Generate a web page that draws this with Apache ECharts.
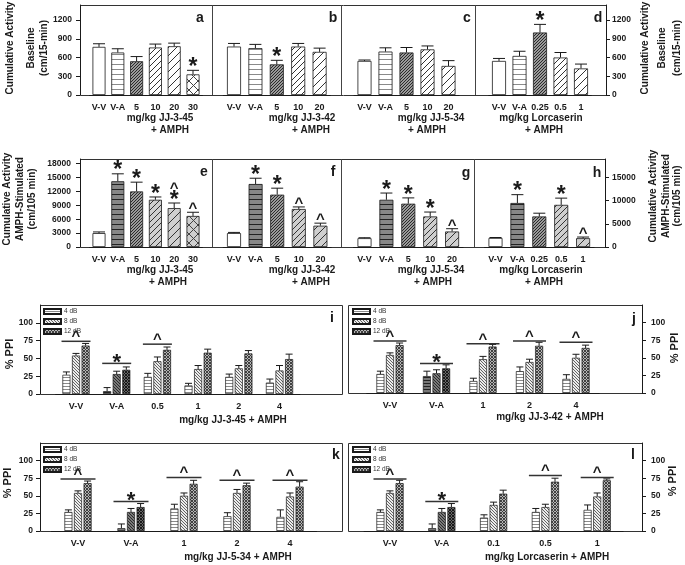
<!DOCTYPE html>
<html>
<head>
<meta charset="utf-8">
<script src="https://cdn.jsdelivr.net/npm/echarts@6/dist/echarts.min.js"></script>
<style>
html, body { margin: 0; padding: 0; background: #fff; }
#chart { width: 685px; height: 565px; }
</style>
</head>
<body>
<div id="chart"></div>
<script>
// ---- baseline activity (cm/15-min), panels a-d
const catsA = ['V-V', 'V-A', '5', '10', '20', '30'];
const catsB = ['V-V', 'V-A', '5', '10', '20'];
const catsC = ['V-V', 'V-A', '5', '10', '20'];
const catsD = ['V-V', 'V-A', '0.25', '0.5', '1'];

const baseA = [770, 680, 540, 760, 780, 330];
const baseAErr = [50, 60, 75, 55, 50, 65];
const baseAMark = ['', '', '', '', '', '*'];
const baseB = [775, 750, 490, 775, 690];
const baseBErr = [50, 60, 65, 50, 60];
const baseBMark = ['', '', '*', '', ''];
const baseC = [545, 695, 680, 730, 465];
const baseCErr = [15, 60, 80, 55, 85];
const baseCMark = ['', '', '', '', ''];
const baseD = [545, 625, 1000, 600, 425];
const baseDErr = [40, 75, 130, 80, 70];
const baseDMark = ['', '', '*', '', ''];

// ---- AMPH-stimulated activity (cm/105 min), panels e-h
const ampE = [3000, 14200, 12000, 10200, 8400, 6700];
const ampEErr = [250, 1600, 2000, 600, 1100, 800];
const ampEMark = ['', '*', '*', '*', '^*', '^'];
const ampF = [3000, 13600, 11300, 8200, 4600];
const ampFErr = [150, 1250, 1400, 450, 550];
const ampFMark = ['', '*', '*', '^', '^'];
const ampG = [1900, 10200, 9350, 6600, 3350];
const ampGErr = [100, 1450, 1250, 950, 600];
const ampGMark = ['', '*', '*', '*', '^'];
const ampH = [1950, 9500, 6600, 9100, 1900];
const ampHErr = [100, 1800, 700, 1450, 250];
const ampHMark = ['', '*', '', '*', '^'];

// ---- % PPI, panels i-l (4, 8, 12 dB)
const catsI = ['V-V', 'V-A', '0.5', '1', '2', '4'];
const ppiI4 = [27, 4, 24, 12, 24, 16];
const ppiI4Err = [4, 5, 5, 3, 4, 5];
const ppiI8 = [54, 28, 46, 35, 36, 33];
const ppiI8Err = [3, 4, 6, 5, 4, 7];
const ppiI12 = [68, 34, 62, 58, 57, 49];
const ppiI12Err = [3, 4, 4, 5, 4, 7];
const brI = [0, 1, 2];
const brIY = [74, 43, 70];
const brIMark = ['^', '*', '^'];

const catsJ = ['V-V', 'V-A', '1', '2', '4'];
const ppiJ4 = [27, 24, 17, 31, 20];
const ppiJ4Err = [4, 7, 4, 6, 6];
const ppiJ8 = [54, 28, 48, 44, 50];
const ppiJ8Err = [3, 5, 4, 4, 5];
const ppiJ12 = [68, 35, 66, 67, 64];
const ppiJ12Err = [3, 5, 3, 5, 4];
const brJ = [0, 1, 2, 3, 4];
const brJY = [74, 42, 70, 74, 72];
const brJMark = ['^', '*', '^', '^', '^'];

const catsK = ['V-V', 'V-A', '1', '2', '4'];
const ppiK4 = [27, 4, 32, 21, 20];
const ppiK4Err = [3, 6, 6, 5, 10];
const ppiK8 = [54, 27, 50, 54, 49];
const ppiK8Err = [3, 5, 4, 5, 5];
const ppiK12 = [68, 34, 67, 65, 63];
const ppiK12Err = [3, 5, 5, 3, 7];
const brK = [0, 1, 2, 3, 4];
const brKY = [74, 42, 76, 72, 72];
const brKMark = ['^', '*', '^', '^', '^'];

const catsL = ['V-V', 'V-A', '0.1', '0.5', '1'];
const ppiL4 = [27, 4, 19, 27, 30];
const ppiL4Err = [3, 6, 4, 5, 7];
const ppiL8 = [54, 27, 37, 34, 49];
const ppiL8Err = [3, 5, 4, 4, 5];
const ppiL12 = [68, 34, 53, 70, 72];
const ppiL12Err = [4, 5, 5, 5, 2];
const brL = [0, 1, 3, 4];
const brLY = [74, 42, 79, 76];
const brLMark = ['^', '*', '^', '^'];

const dbNames = ['4 dB', '8 dB', '12 dB'];

const FONT = 'Arial, "Liberation Sans", sans-serif';
const INK = '#1a1a1a';

// hatch fills drawn on small canvases
function tile(n, bg, draw) {
  const c = document.createElement('canvas');
  c.width = n; c.height = n;
  const g = c.getContext('2d');
  g.fillStyle = bg; g.fillRect(0, 0, n, n);
  draw(g, n);
  return { image: c, repeat: 'repeat' };
}
function hLines(bg, fg, n) {
  return tile(n, bg, (g, s) => { g.fillStyle = fg; g.fillRect(0, s - 1, s, 1); });
}
function fwd(g, s) {
  g.moveTo(0, s); g.lineTo(s, 0);
  g.moveTo(-1, 1); g.lineTo(1, -1);
  g.moveTo(s - 1, s + 1); g.lineTo(s + 1, s - 1);
}
function back(g, s) {
  g.moveTo(0, 0); g.lineTo(s, s);
  g.moveTo(s - 1, -1); g.lineTo(s + 1, 1);
  g.moveTo(-1, s - 1); g.lineTo(1, s + 1);
}
function hatch(bg, fg, n, w, kind) {
  return tile(n, bg, (g, s) => {
    g.strokeStyle = fg; g.lineWidth = w; g.beginPath();
    if (kind !== 'back') fwd(g, s);
    if (kind !== 'fwd') back(g, s);
    g.stroke();
  });
}
const pats = {
  white: '#ffffff',
  hLight: hLines('#ffffff', '#8a8a8a', 5),
  hDark: hLines('#878787', '#222', 5),
  dense: hatch('#9a9a9a', '#2a2a2a', 3, 1, 'fwd'),
  diag: hatch('#ffffff', '#333', 6, 1, 'fwd'),
  diagWide: hatch('#ffffff', '#333', 8, 1, 'fwd'),
  diagGray: hatch('#cfcfcf', '#333', 6, 1, 'fwd'),
  diagGrayWide: hatch('#cfcfcf', '#333', 8, 1, 'fwd'),
  cross: hatch('#ffffff', '#444', 9, 1, 'x'),
  crossGray: hatch('#cfcfcf', '#444', 9, 1, 'x'),
  p4: hLines('#ffffff', '#8a8a8a', 3),
  p8: hatch('#ececec', '#555', 3, 0.9, 'back'),
  p12: hatch('#b5b5b5', '#333', 3, 0.9, 'x'),
  p4d: hLines('#777', '#222', 3),
  p8d: hatch('#7a7a7a', '#222', 3, 0.9, 'back'),
  p12d: hatch('#666', '#111', 3, 0.9, 'x')
};

const option = {
  animation: false,
  backgroundColor: '#fff',
  textStyle: { fontFamily: FONT },
  grid: [], xAxis: [], yAxis: [], series: [], legend: [], graphic: []
};

function addAxes(p) {
  const gi = option.grid.length;
  const n = p.cats.length;
  const left = p.c0 - p.step / 2;
  const width = p.step * n;
  option.grid.push({ left: left, top: p.top, width: width, height: p.bottom - p.top, outerBoundsMode: 'none' });
  option.xAxis.push({
    type: 'category', gridIndex: gi, data: p.cats,
    axisLine: { lineStyle: { color: INK, width: 1 } },
    axisTick: { alignWithLabel: true, length: 3, lineStyle: { color: INK } },
    axisLabel: { color: INK, fontSize: 9, fontWeight: 'bold', fontFamily: FONT, margin: p.lblMargin, interval: 0 }
  });
  const y = { type: 'value', gridIndex: gi, min: 0, max: p.max, interval: p.interval, splitLine: { show: false } };
  if (p.axis) {
    Object.assign(y, {
      position: p.axis,
      offset: p.axis === 'left' ? left - p.frameL : p.frameR - (left + width),
      axisLine: { show: true, lineStyle: { color: INK } },
      axisTick: { show: true, length: 4, lineStyle: { color: INK } },
      axisLabel: { color: INK, fontSize: 8.5, fontWeight: 'bold', fontFamily: FONT, margin: p.yMargin,
        showMaxLabel: false, formatter: v => String(v) }
    });
  } else {
    y.show = false;
  }
  option.yAxis.push(y);
  return gi;
}

function glyph(ch, x, yc, big) {
  const fs = ch === '*' ? big : Math.round(big * 0.66);
  const off = ch === '*' ? 0.23 : 0.18;
  return {
    type: 'text', x: x, y: yc + off * fs,
    style: { text: ch, fontSize: fs, fontWeight: 'bold', fontFamily: FONT, fill: INK,
      align: 'center', verticalAlign: 'middle', textAlign: 'center', textVerticalAlign: 'middle' }
  };
}

function errSeries(gi, vals, errs, marks, xOff, capW, starSize) {
  return {
    type: 'custom', xAxisIndex: gi, yAxisIndex: gi, clip: false, z: 5, silent: true,
    data: vals.map((v, i) => [i, v, v + errs[i]]),
    renderItem: (params, api) => {
      const base = api.coord([api.value(0), api.value(1)]);
      const top = api.coord([api.value(0), api.value(2)]);
      const x = base[0] + xOff;
      const kids = [
        { type: 'line', shape: { x1: x, y1: base[1], x2: x, y2: top[1] }, style: { stroke: INK, lineWidth: 1 } },
        { type: 'line', shape: { x1: x - capW / 2, y1: top[1], x2: x + capW / 2, y2: top[1] }, style: { stroke: INK, lineWidth: 1 } }
      ];
      const m = marks ? marks[params.dataIndex] : '';
      let yc = top[1];
      for (let k = m.length - 1; k >= 0; k--) {
        yc -= (k === m.length - 1) ? (m[k] === '*' ? 8 : 6) : 8.5;
        kids.push(glyph(m[k], x, yc, starSize));
      }
      return { type: 'group', children: kids };
    }
  };
}

function addBarPanel(p) {
  const gi = addAxes(p);
  option.series.push({
    type: 'bar', xAxisIndex: gi, yAxisIndex: gi, barWidth: p.barW, silent: true,
    data: p.vals.map((v, i) => ({ value: v, itemStyle: { color: pats[p.fills[i]], borderColor: INK, borderWidth: 0.8 } }))
  });
  option.series.push(errSeries(gi, p.vals, p.errs, p.marks, 0, 12, 23));
}

function addPpiPanel(p) {
  const gi = addAxes(p);
  const vals = [p.v4, p.v8, p.v12];
  const errs = [p.e4, p.e8, p.e12];
  const fills = ['p4', 'p8', 'p12'];
  const dark = ['p4d', 'p8d', 'p12d'];
  for (let k = 0; k < 3; k++) {
    option.series.push({
      type: 'bar', name: dbNames[k], xAxisIndex: gi, yAxisIndex: gi, barWidth: 8, barGap: '20%', silent: true,
      itemStyle: { color: pats[fills[k]], borderColor: INK, borderWidth: 0.7 },
      data: vals[k].map((v, i) => i === 1 ? { value: v, itemStyle: { color: pats[dark[k]] } } : v)
    });
  }
  for (let k = 0; k < 3; k++) {
    option.series.push(errSeries(gi, vals[k], errs[k], null, (k - 1) * 9.6, 7, 22));
  }
  option.series.push({
    type: 'custom', xAxisIndex: gi, yAxisIndex: gi, clip: false, z: 5, silent: true,
    data: p.br.map((c, j) => [c, p.brY[j]]),
    renderItem: (params, api) => {
      const pt = api.coord([api.value(0), api.value(1)]);
      const m = p.brMark[params.dataIndex];
      return { type: 'group', children: [
        { type: 'line', shape: { x1: pt[0] - p.brW / 2, y1: pt[1], x2: pt[0] + p.brW / 2, y2: pt[1] }, style: { stroke: '#333', lineWidth: 1.5 } },
        glyph(m, pt[0], pt[1] - (m === '*' ? 6 : 7), 22)
      ] };
    }
  });
  option.legend.push({
    left: p.legL, top: p.legT, orient: 'vertical', selectedMode: false,
    itemWidth: 17, itemHeight: 5, itemGap: 3, icon: 'rect', padding: 0,
    data: dbNames,
    textStyle: { fontSize: 6.5, color: '#333', fontFamily: FONT, padding: [0, 0, 0, -2] }
  });
}

const topRow = { top: 5, bottom: 95, max: 1440, interval: 300, lblMargin: 8 };
const midRow = { top: 159, bottom: 247, max: 19000, lblMargin: 8 };

addBarPanel(Object.assign({}, topRow, { cats: catsA, vals: baseA, errs: baseAErr, marks: baseAMark,
  fills: ['white', 'hLight', 'dense', 'diag', 'diagWide', 'cross'], c0: 99, step: 18.8, barW: 13,
  axis: 'left', frameL: 80, yMargin: 8 }));
addBarPanel(Object.assign({}, topRow, { cats: catsB, vals: baseB, errs: baseBErr, marks: baseBMark,
  fills: ['white', 'hLight', 'dense', 'diag', 'diagWide'], c0: 234, step: 21.4, barW: 14 }));
addBarPanel(Object.assign({}, topRow, { cats: catsC, vals: baseC, errs: baseCErr, marks: baseCMark,
  fills: ['white', 'hLight', 'dense', 'diag', 'diagWide'], c0: 364.5, step: 21, barW: 14 }));
addBarPanel(Object.assign({}, topRow, { cats: catsD, vals: baseD, errs: baseDErr, marks: baseDMark,
  fills: ['white', 'hLight', 'dense', 'diag', 'diagWide'], c0: 499, step: 20.5, barW: 14,
  axis: 'right', frameR: 606, yMargin: 6 }));

addBarPanel(Object.assign({}, midRow, { cats: catsA, vals: ampE, errs: ampEErr, marks: ampEMark,
  fills: ['white', 'hDark', 'dense', 'diagGray', 'diagGrayWide', 'crossGray'], c0: 99, step: 18.8, barW: 13,
  axis: 'left', frameL: 80, yMargin: 9, interval: 3000 }));
addBarPanel(Object.assign({}, midRow, { cats: catsB, vals: ampF, errs: ampFErr, marks: ampFMark,
  fills: ['white', 'hDark', 'dense', 'diagGray', 'diagGrayWide'], c0: 234, step: 21.6, barW: 14, interval: 3000 }));
addBarPanel(Object.assign({}, midRow, { cats: catsC, vals: ampG, errs: ampGErr, marks: ampGMark,
  fills: ['white', 'hDark', 'dense', 'diagGray', 'diagGrayWide'], c0: 364.5, step: 21.9, barW: 14, interval: 5000 }));
addBarPanel(Object.assign({}, midRow, { cats: catsD, vals: ampH, errs: ampHErr, marks: ampHMark,
  fills: ['white', 'hDark', 'dense', 'diagGray', 'diagGrayWide'], c0: 495.5, step: 21.9, barW: 14,
  axis: 'right', frameR: 605, yMargin: 7, interval: 5000 }));

const ppiTop = { max: 125, interval: 25, lblMargin: 8.5 };
addPpiPanel(Object.assign({}, ppiTop, { cats: catsI, v4: ppiI4, e4: ppiI4Err, v8: ppiI8, e8: ppiI8Err, v12: ppiI12, e12: ppiI12Err,
  br: brI, brY: brIY, brMark: brIMark, brW: 29, top: 305, bottom: 394, c0: 76, step: 40.7,
  axis: 'left', frameL: 40, yMargin: 7, legL: 43, legT: 308 }));
addPpiPanel(Object.assign({}, ppiTop, { cats: catsJ, v4: ppiJ4, e4: ppiJ4Err, v8: ppiJ8, e8: ppiJ8Err, v12: ppiJ12, e12: ppiJ12Err,
  br: brJ, brY: brJY, brMark: brJMark, brW: 33, top: 305, bottom: 393, c0: 390, step: 46.5,
  axis: 'right', frameR: 642, yMargin: 9, legL: 352, legT: 308 }));
addPpiPanel(Object.assign({}, ppiTop, { cats: catsK, v4: ppiK4, e4: ppiK4Err, v8: ppiK8, e8: ppiK8Err, v12: ppiK12, e12: ppiK12Err,
  br: brK, brY: brKY, brMark: brKMark, brW: 35, top: 443, bottom: 531, c0: 78, step: 53,
  axis: 'left', frameL: 40, yMargin: 7, legL: 43, legT: 446 }));
addPpiPanel(Object.assign({}, ppiTop, { cats: catsL, v4: ppiL4, e4: ppiL4Err, v8: ppiL8, e8: ppiL8Err, v12: ppiL12, e12: ppiL12Err,
  br: brL, brY: brLY, brMark: brLMark, brW: 33, top: 443, bottom: 531, c0: 390, step: 51.8,
  axis: 'right', frameR: 642, yMargin: 9, legL: 352, legT: 446 }));

// frames, titles, panel letters
const g = option.graphic;
function frame(x1, y1, x2, y2) {
  g.push({ type: 'rect', silent: true, shape: { x: x1 + 0.5, y: y1 + 0.5, width: x2 - x1, height: y2 - y1 },
    style: { fill: 'none', stroke: '#333', lineWidth: 1 } });
}
function divider(x, y1, y2) {
  g.push({ type: 'line', silent: true, shape: { x1: x + 0.5, y1: y1, x2: x + 0.5, y2: y2 }, style: { stroke: '#444', lineWidth: 1 } });
}
function label(text, x, y, size, rot) {
  g.push({ type: 'text', silent: true, x: x, y: y, rotation: rot ? Math.PI / 2 : 0,
    style: { text: text, fontSize: size, fontWeight: 'bold', fontFamily: FONT, fill: INK,
      align: 'center', verticalAlign: 'middle', textAlign: 'center', textVerticalAlign: 'middle' } });
}

frame(80, 5, 606, 95);
[212, 341, 475].forEach(x => divider(x, 5, 95));
frame(80, 159, 605, 247);
[212, 341, 474].forEach(x => divider(x, 159, 247));
frame(40, 305, 342, 394);
frame(348, 305, 642, 393);
frame(40, 443, 342, 531);
frame(348, 443, 642, 531);

label('Cumulative Activity', 10.5, 48, 10, true);
label('Baseline', 31, 48, 10, true);
label('(cm/15-min)', 44.5, 48, 10, true);
label('Cumulative Activity', 645, 48, 10, true);
label('Baseline', 662, 48, 10, true);
label('(cm/15-min)', 677, 48, 10, true);
label('Cumulative Activity', 7, 199, 10, true);
label('AMPH-Stimulated', 20, 199, 10, true);
label('(cm/105 min)', 32, 199, 10, true);
label('Cumulative Activity', 653, 196, 10, true);
label('AMPH-Stimulated', 666, 196, 10, true);
label('(cm/105 min)', 677, 196, 10, true);
label('% PPI', 10, 354, 11, true);
label('% PPI', 675, 348, 11, true);
label('% PPI', 8, 483, 11, true);
label('% PPI', 673, 481, 11, true);

label('mg/kg JJ-3-45', 160, 118, 10);
label('+ AMPH', 170, 130, 10);
label('mg/kg JJ-3-42', 302, 118, 10);
label('+ AMPH', 311, 130, 10);
label('mg/kg JJ-5-34', 431, 118, 10);
label('+ AMPH', 427, 130, 10);
label('mg/kg Lorcaserin', 541, 118, 10);
label('+ AMPH', 544, 130, 10);
label('mg/kg JJ-3-45', 160, 270, 10);
label('+ AMPH', 168, 282, 10);
label('mg/kg JJ-3-42', 302, 270, 10);
label('+ AMPH', 311, 282, 10);
label('mg/kg JJ-5-34', 431, 270, 10);
label('+ AMPH', 433, 282, 10);
label('mg/kg Lorcaserin', 541, 270, 10);
label('+ AMPH', 544, 282, 10);
label('mg/kg JJ-3-45 + AMPH', 233, 420, 10);
label('mg/kg JJ-3-42 + AMPH', 550, 417, 10);
label('mg/kg JJ-5-34 + AMPH', 238, 557, 10);
label('mg/kg Lorcaserin + AMPH', 547, 557, 10);

[['a', 200, 18], ['b', 333, 18], ['c', 467, 18], ['d', 598, 18],
 ['e', 204, 172], ['f', 333, 172], ['g', 466, 173], ['h', 597, 173],
 ['i', 332, 318], ['j', 634, 319], ['k', 336, 455], ['l', 633, 455]].forEach(t => label(t[0], t[1], t[2], 14));

const chart = echarts.init(document.getElementById('chart'), null, { renderer: 'canvas' });
chart.setOption(option);
</script>
</body>
</html>
